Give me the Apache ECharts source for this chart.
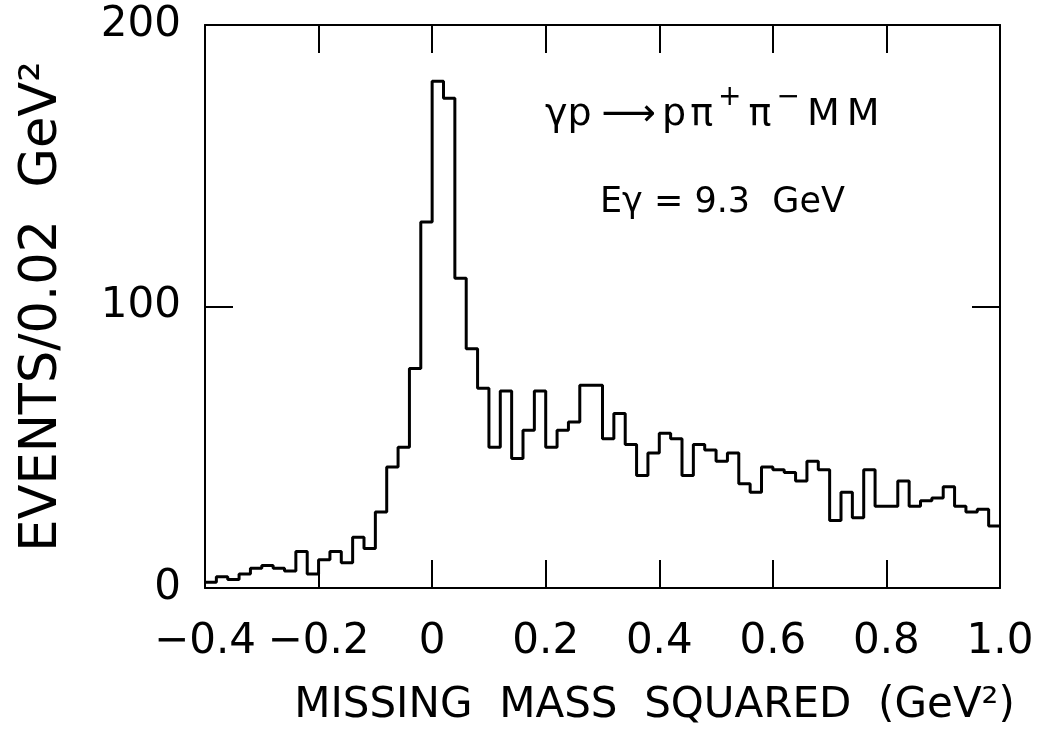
<!DOCTYPE html>
<html>
<head>
<meta charset="utf-8">
<title>Missing mass squared</title>
<script src="https://cdn.jsdelivr.net/npm/echarts@6/dist/echarts.min.js"></script>
<style>
  html, body { margin: 0; padding: 0; background: #fff; }
  #main { width: 1037px; height: 734px; }
</style>
</head>
<body>
<div id="main"></div>
<script>
// 直方图: 每个bin宽0.02 GeV^2, 从-0.4开始
var binStart = -0.4;
var binWidth = 0.02;
var counts = [
    2, 4, 3, 5, 7, 8, 7, 6, 13, 5,
    10, 13, 9, 18, 14, 27, 43, 50, 78, 130,
    180, 174, 110, 85, 71, 50, 70, 46, 56, 70,
    50, 56, 59, 72, 72, 53, 62, 51, 40, 48,
    55, 53, 40, 51, 49, 45, 48, 37, 34, 43,
    42, 41, 38, 45, 42, 24, 34, 25, 42, 29,
    29, 38, 29, 31, 32, 36, 29, 27, 28, 22
];
var xTicks = [-0.4, -0.2, 0, 0.2, 0.4, 0.6, 0.8, 1.0];
var yTicks = [0, 100, 200];

// 生成阶梯线的点(bin左边界 + 最后一个右边界)
function buildSteps(start, width, values) {
    var pts = [];
    for (var i = 0; i < values.length; i++) {
        pts.push([+(start + width * i).toFixed(2), values[i]]);
    }
    pts.push([+(start + width * values.length).toFixed(2), values[values.length - 1]]);
    return pts;
}

var myChart = echarts.init(document.getElementById('main'));
var font = 'DejaVu Sans';

function xLabel(v) {
    if (Math.abs(v) < 1e-9) return '0';
    return v.toFixed(1).replace('-', '\u2212');
}

var frameLine = { show: true, onZero: false, lineStyle: { color: '#000', width: 2 } };
var tickIn = { show: true, inside: true, length: 28, lineStyle: { color: '#000', width: 2 } };

// 反应式的富文本样式(上标用小字号顶部对齐)
var richMain = { fontFamily: font, fontSize: 38, lineHeight: 50, verticalAlign: 'bottom', color: '#000' };
var richArrow = { fontFamily: font, fontSize: 38, lineHeight: 50, verticalAlign: 'bottom', color: '#000', padding: [0, 6, 0, 10] };
var richPi = { fontFamily: font, fontSize: 38, lineHeight: 50, verticalAlign: 'bottom', color: '#000', padding: [0, 2, 0, 4] };
var richSup = { fontFamily: font, fontSize: 28, lineHeight: 28, verticalAlign: 'top', color: '#000', padding: [0, 3, 0, 3] };
var richM = { fontFamily: font, fontSize: 38, lineHeight: 50, verticalAlign: 'bottom', color: '#000', padding: [0, 3, 0, 4] };

option = {
    backgroundColor: '#fff',
    animation: false,
    grid: { left: 205, right: 37, top: 25, bottom: 146, containLabel: false },
    xAxis: [
        {
            type: 'value',
            min: xTicks[0],
            max: xTicks[xTicks.length - 1],
            interval: 0.2,
            axisLine: frameLine,
            axisTick: tickIn,
            splitLine: { show: false },
            axisLabel: {
                margin: 33,
                color: '#000',
                fontFamily: font,
                fontSize: 42,
                formatter: xLabel
            },
            name: 'MISSING  MASS  SQUARED  (GeV\u00B2)',
            nameLocation: 'middle',
            nameGap: 97,
            nameTextStyle: {
                color: '#000',
                fontFamily: font,
                fontSize: 42,
                padding: [0, 0, 0, 104]
            }
        },
        {
            type: 'value',
            position: 'top',
            min: xTicks[0],
            max: xTicks[xTicks.length - 1],
            interval: 0.2,
            axisLine: frameLine,
            axisTick: tickIn,
            splitLine: { show: false },
            axisLabel: { show: false }
        }
    ],
    yAxis: [
        {
            type: 'value',
            min: yTicks[0],
            max: yTicks[yTicks.length - 1],
            interval: 100,
            axisLine: frameLine,
            axisTick: tickIn,
            splitLine: { show: false },
            axisLabel: {
                margin: 24,
                color: '#000',
                fontFamily: font,
                fontSize: 42
            },
            name: 'EVENTS/0.02  GeV\u00B2',
            nameLocation: 'middle',
            nameRotate: 90,
            nameGap: 137,
            nameTextStyle: {
                color: '#000',
                fontFamily: font,
                fontSize: 51
            }
        },
        {
            type: 'value',
            position: 'right',
            min: yTicks[0],
            max: yTicks[yTicks.length - 1],
            interval: 100,
            axisLine: frameLine,
            axisTick: tickIn,
            splitLine: { show: false },
            axisLabel: { show: false }
        }
    ],
    graphic: [
        {
            type: 'text',
            left: 545,
            top: 84,
            style: {
                text: '{m|\u03B3p}{a|\u27F6}{m|p}{p|\u03C0}{s|+}{p|\u03C0}{s|\u2212}{mm|M}{mm|M}',
                rich: { m: richMain, a: richArrow, p: richPi, s: richSup, mm: richM }
            }
        },
        {
            type: 'text',
            left: 600,
            top: 185,
            style: {
                text: 'E\u03B3 = 9.3  GeV',
                font: '35px "DejaVu Sans"',
                fill: '#000'
            }
        }
    ],
    series: [
        {
            name: 'events',
            type: 'line',
            step: 'end',
            symbol: 'none',
            data: buildSteps(binStart, binWidth, counts),
            lineStyle: { color: '#000', width: 3 }
        }
    ]
};

myChart.setOption(option);
</script>
</body>
</html>
